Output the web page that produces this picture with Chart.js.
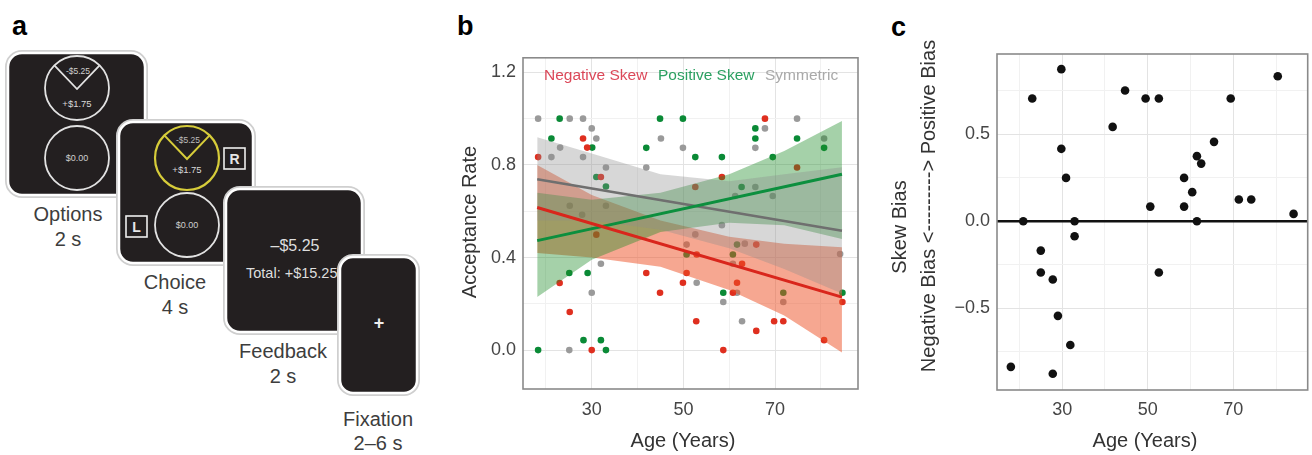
<!DOCTYPE html>
<html>
<head>
<meta charset="utf-8">
<script src="https://cdn.jsdelivr.net/npm/chart.js@4"></script>
<style>
body { margin: 0; background: #fff; width: 1312px; height: 455px; overflow: hidden; position: relative; font-family: "Liberation Sans", Arial, sans-serif; }
#art { position: absolute; left: 0; top: 0; }
#boxB { position: absolute; left: 440px; top: 40px; width: 430px; height: 415px; }
#boxC { position: absolute; left: 880px; top: 20px; width: 432px; height: 435px; }
</style>
</head>
<body>
<svg id="art" width="1312" height="455" font-family="Liberation Sans, Arial, sans-serif">
  <text x="12" y="35" font-size="27" font-weight="bold">a</text>
  <text x="457" y="35" font-size="27" font-weight="bold">b</text>
  <text x="891" y="36" font-size="27" font-weight="bold">c</text>

  <!-- Options screen -->
  <rect x="8" y="53" width="137" height="142" rx="14" fill="#231f20" stroke="#cfcfcf" stroke-width="6"/>
  <rect x="8" y="53" width="137" height="142" rx="14" fill="#231f20" stroke="#fff" stroke-width="2.5"/>
  <circle cx="77" cy="88" r="32" fill="none" stroke="#e2e2e2" stroke-width="1.8"/>
  <polyline points="54.4,65.4 77,89 99.6,65.4" fill="none" stroke="#e2e2e2" stroke-width="1.8"/>
  <text x="78" y="74" font-size="8.5" fill="#cfcfcf" text-anchor="middle">-$5.25</text>
  <text x="77" y="107" font-size="9.5" fill="#d8d8d8" text-anchor="middle">+$1.75</text>
  <circle cx="77" cy="158" r="32" fill="none" stroke="#e2e2e2" stroke-width="1.8"/>
  <text x="77" y="161" font-size="9" fill="#cfcfcf" text-anchor="middle">$0.00</text>
  <text x="68" y="221" font-size="20" fill="#3d3d3d" text-anchor="middle">Options</text>
  <text x="68" y="246" font-size="20" fill="#3d3d3d" text-anchor="middle">2 s</text>

  <!-- Choice screen -->
  <rect x="119" y="122" width="134" height="141" rx="14" fill="#231f20" stroke="#cfcfcf" stroke-width="6"/>
  <rect x="119" y="122" width="134" height="141" rx="14" fill="#231f20" stroke="#fff" stroke-width="2.5"/>
  <circle cx="187" cy="158" r="32" fill="none" stroke="#d6cc3a" stroke-width="2.2"/>
  <polyline points="164.4,135.4 187,159 209.6,135.4" fill="none" stroke="#d6cc3a" stroke-width="2"/>
  <text x="188" y="143" font-size="8.5" fill="#bdbdbd" text-anchor="middle">-$5.25</text>
  <text x="187" y="173" font-size="9.5" fill="#d8d8d8" text-anchor="middle">+$1.75</text>
  <circle cx="187" cy="225" r="32" fill="none" stroke="#e2e2e2" stroke-width="1.8"/>
  <text x="187" y="228" font-size="9" fill="#cfcfcf" text-anchor="middle">$0.00</text>
  <rect x="224" y="148" width="21" height="21" fill="none" stroke="#eee" stroke-width="1.6"/>
  <text x="234.5" y="164" font-size="14" font-weight="bold" fill="#e6e6e6" text-anchor="middle">R</text>
  <rect x="126" y="216" width="21" height="21" fill="none" stroke="#eee" stroke-width="1.6"/>
  <text x="136.5" y="232" font-size="14" font-weight="bold" fill="#e6e6e6" text-anchor="middle">L</text>
  <text x="175" y="289" font-size="20" fill="#3d3d3d" text-anchor="middle">Choice</text>
  <text x="175" y="314" font-size="20" fill="#3d3d3d" text-anchor="middle">4 s</text>

  <!-- Feedback screen -->
  <rect x="226" y="189" width="136" height="143" rx="14" fill="#231f20" stroke="#cfcfcf" stroke-width="6"/>
  <rect x="226" y="189" width="136" height="143" rx="14" fill="#231f20" stroke="#fff" stroke-width="2.5"/>
  <text x="295" y="251" font-size="16" fill="#dedede" text-anchor="middle">–$5.25</text>
  <text x="246" y="278" font-size="14.5" fill="#dedede">Total: +$15.25</text>
  <text x="283" y="358" font-size="20" fill="#3d3d3d" text-anchor="middle">Feedback</text>
  <text x="283" y="383" font-size="20" fill="#3d3d3d" text-anchor="middle">2 s</text>

  <!-- Fixation screen -->
  <rect x="340" y="257" width="77" height="136" rx="13" fill="#231f20" stroke="#cfcfcf" stroke-width="6"/>
  <rect x="340" y="257" width="77" height="136" rx="13" fill="#231f20" stroke="#fff" stroke-width="2.5"/>
  <text x="379" y="329" font-size="18" font-weight="bold" fill="#eee" text-anchor="middle">+</text>
  <text x="378" y="426" font-size="20" fill="#3d3d3d" text-anchor="middle">Fixation</text>
  <text x="378" y="450" font-size="20" fill="#3d3d3d" text-anchor="middle">2–6 s</text>
</svg>

<div id="boxB"><canvas id="chartB"></canvas></div>
<div id="boxC"><canvas id="chartC"></canvas></div>

<script>
// ── Panel b: acceptance rate by age, one series per gamble skew ──
const negAge  = [18.3, 23.0, 25.2, 28.1, 29.0, 30.0, 31.0, 32.0, 41.9, 44.9, 49.9, 50.7, 52.6, 52.8, 52.9, 58.4, 58.7, 60.8, 61.7, 62.8, 65.9, 65.9, 67.8, 69.8, 71.8, 74.8, 80.7, 84.7];
const negRate = [0.834, 0.29, 0.165, 0.914, 0.875, 0.0, 0.499, 0.748, 0.333, 0.248, 0.291, 0.333, 0.705, 0.125, 0.413, 0.748, 0.0, 0.248, 0.291, 0.373, 0.456, 0.083, 1.0, 0.125, 0.125, 0.789, 0.043, 0.208];
const posAge  = [18.3, 21.2, 23.0, 25.1, 28.2, 29.1, 30.1, 31.0, 32.0, 33.1, 33.1, 41.9, 44.9, 49.9, 50.7, 52.6, 58.4, 58.7, 60.8, 61.7, 62.7, 65.7, 65.7, 69.5, 71.8, 74.8, 80.7, 84.7];
const posRate = [0.0, 0.914, 1.0, 0.333, 0.043, 0.333, 0.875, 0.748, 0.043, 0.707, 0.0, 0.874, 1.0, 1.0, 0.413, 0.834, 0.834, 0.248, 0.413, 0.456, 0.705, 0.958, 0.914, 0.834, 0.248, 0.914, 0.874, 0.248];
const symAge  = [18.3, 21.2, 23.1, 25.1, 25.2, 25.2, 27.9, 28.1, 28.1, 30.0, 30.0, 31.0, 32.0, 33.1, 33.1, 41.9, 45.1, 49.9, 50.7, 52.6, 52.9, 58.4, 58.7, 60.8, 61.3, 61.7, 62.8, 63.4, 65.7, 65.7, 67.8, 69.5, 71.8, 74.8, 80.7, 84.2];
const symRate = [1.0, 0.834, 0.875, 0.0, 1.0, 0.624, 0.585, 1.0, 0.834, 0.958, 0.248, 0.914, 0.373, 0.789, 0.624, 0.789, 0.914, 0.874, 0.456, 0.50, 0.291, 0.54, 0.208, 0.373, 0.666, 0.248, 0.125, 0.46, 0.705, 0.874, 0.958, 0.666, 0.208, 1.0, 0.914, 0.415];

// fitted lines (end points) and confidence bands
const fitAge = [18.1, 84.6];
const negFit = [0.616, 0.229];
const posFit = [0.473, 0.760];
const symFit = [0.738, 0.516];
const bandAge  = [18.1, 30, 45, 60, 72, 84.6];
const negUpper = [0.80, 0.67, 0.56, 0.49, 0.46, 0.444];
const negLower = [0.42, 0.40, 0.36, 0.26, 0.15, -0.01];
const posUpper = [0.68, 0.65, 0.68, 0.76, 0.86, 0.99];
const posLower = [0.23, 0.39, 0.51, 0.55, 0.54, 0.48];
const symUpper = [0.92, 0.85, 0.76, 0.73, 0.76, 0.79];
const symLower = [0.56, 0.56, 0.52, 0.44, 0.35, 0.245];

const ageTicks = [20, 30, 40, 50, 60, 70, 80];
const ageLabelTicks = [30, 50, 70];
const rateTicks = [0, 0.2, 0.4, 0.6, 0.8, 1.0, 1.2];
const rateLabelTicks = [0, 0.4, 0.8, 1.2];
const legendLabels = ['Negative Skew', 'Positive Skew', 'Symmetric'];

// ── Panel c: skew bias by age ──
const biasAge   = [18.0, 20.9, 23.0, 25.0, 25.0, 27.8, 27.8, 29.0, 29.8, 29.8, 30.9, 31.9, 32.9, 32.9, 41.8, 44.7, 49.5, 50.6, 52.6, 52.6, 58.5, 58.5, 60.4, 61.5, 62.5, 61.5, 65.5, 69.4, 71.3, 74.2, 80.4, 84.1];
const biasValue = [-0.837, 0, 0.705, -0.169, -0.295, -0.335, -0.877, -0.544, 0.874, 0.416, 0.249, -0.711, 0, -0.086, 0.542, 0.751, 0.705, 0.084, 0.705, -0.295, 0.249, 0.084, 0.167, 0.374, 0.331, 0, 0.456, 0.705, 0.125, 0.125, 0.833, 0.042];
const biasTicks = [-0.75, -0.5, -0.25, 0, 0.25, 0.5, 0.75];
const biasLabelTicks = [-0.5, 0, 0.5];

const RED = '#d9261c', GREEN = '#0c8f3e', GREY = '#6f6f6f';
const FONT = '"Liberation Sans", Arial, sans-serif';

const pts = (xs, ys) => xs.map((x, i) => ({ x, y: ys[i] }));
const isMajor = (list, v) => list.some(t => Math.abs(t - v) < 1e-6);
const gridColor = list => ctx => (ctx.tick && isMajor(list, ctx.tick.value)) ? '#e3e3e3' : '#f1f1f1';

const panelText = {
    id: 'panelText',
    afterDraw(chart, args, opts) {
        const ctx = chart.ctx;
        (opts.items || []).forEach(t => {
            ctx.save();
            ctx.font = t.font;
            ctx.fillStyle = t.color;
            ctx.textAlign = t.align || 'center';
            ctx.textBaseline = 'middle';
            ctx.translate(t.x, t.y);
            if (t.rotate) ctx.rotate(-Math.PI / 2);
            ctx.fillText(t.text, 0, 0);
            ctx.restore();
        });
    }
};

const frame = {
    id: 'frame',
    beforeDatasetsDraw(chart, args, opts) {
        if (opts.zeroLine === undefined) return;
        const a = chart.chartArea, y = chart.scales.y.getPixelForValue(opts.zeroLine);
        const ctx = chart.ctx;
        ctx.save();
        ctx.strokeStyle = '#111';
        ctx.lineWidth = 2.6;
        ctx.beginPath();
        ctx.moveTo(a.left, y);
        ctx.lineTo(a.right, y);
        ctx.stroke();
        ctx.restore();
    },
    afterDatasetsDraw(chart) {
        const a = chart.chartArea, ctx = chart.ctx;
        ctx.save();
        ctx.strokeStyle = '#8a8a8a';
        ctx.lineWidth = 1.6;
        ctx.strokeRect(a.left, a.top, a.right - a.left, a.bottom - a.top);
        ctx.restore();
    }
};

function axis(min, max, tickList, labelList, fmt, size, pad) {
    return {
        type: 'linear', min, max,
        afterBuildTicks: s => { s.ticks = tickList.map(v => ({ value: v })); },
        grid: { color: gridColor(labelList), lineWidth: 1, drawTicks: false },
        border: { display: false },
        ticks: {
            autoSkip: false, maxRotation: 0, padding: pad, color: '#454545',
            font: { family: FONT, size: 18 },
            callback: v => isMajor(labelList, v) ? fmt(v) : ''
        },
        afterFit: s => { if (size.w) s.width = size.w; if (size.h) s.height = size.h; }
    };
}

const lineDs = (ys, color, width) => ({
    data: pts(fitAge, ys), borderColor: color, borderWidth: width,
    pointRadius: 0, fill: false, showLine: true
});
const bandDs = (ys, fillColor, fill) => ({
    data: pts(bandAge, ys), borderWidth: 0, borderColor: 'rgba(0,0,0,0)',
    backgroundColor: fillColor, pointRadius: 0, fill, showLine: true
});
const dotDs = (xs, ys, color) => ({
    data: pts(xs, ys), showLine: false, pointRadius: 3.3,
    pointBackgroundColor: color, pointBorderWidth: 0
});

// first dataset is drawn on top: lines, then bands (grey over green over red), then dots
new Chart(document.getElementById('chartB'), {
    type: 'line',
    data: {
        datasets: [
            lineDs(negFit, RED, 3),
            lineDs(posFit, GREEN, 3),
            lineDs(symFit, GREY, 2.6),
            bandDs(symUpper, 'rgba(140,140,140,0.35)', '+1'),
            bandDs(symLower, 'rgba(0,0,0,0)', false),
            bandDs(posUpper, 'rgba(30,140,40,0.4)', '+1'),
            bandDs(posLower, 'rgba(0,0,0,0)', false),
            bandDs(negUpper, 'rgba(238,80,35,0.5)', '+1'),
            bandDs(negLower, 'rgba(0,0,0,0)', false),
            dotDs(negAge, negRate, '#df2f1f'),
            dotDs(posAge, posRate, '#0a8a36'),
            dotDs(symAge, symRate, '#9a9a9a')
        ]
    },
    options: {
        responsive: true, maintainAspectRatio: false, animation: false,
        layout: { padding: { left: 0, right: 12, top: 16, bottom: 0 } },
        scales: {
            x: axis(15, 88.1, ageTicks, ageLabelTicks, v => String(v), { h: 66 }, 10),
            y: axis(-0.168, 1.263, rateTicks, rateLabelTicks, v => v.toFixed(1), { w: 83 }, 7)
        },
        plugins: {
            legend: { display: false },
            tooltip: { enabled: false },
            panelText: {
                items: [
                    { text: legendLabels[0], x: 104, y: 36, align: 'left', color: 'rgba(214,40,60,0.85)', font: '15.5px ' + FONT },
                    { text: legendLabels[1], x: 218, y: 36, align: 'left', color: 'rgba(20,150,80,0.9)', font: '15.5px ' + FONT },
                    { text: legendLabels[2], x: 325, y: 36, align: 'left', color: '#a9a9a9', font: '15.5px ' + FONT },
                    { text: 'Acceptance Rate', x: 30, y: 182, rotate: true, color: '#333', font: '20px ' + FONT },
                    { text: 'Age (Years)', x: 243, y: 401, color: '#333', font: '20px ' + FONT }
                ]
            }
        }
    },
    plugins: [panelText, frame]
});

new Chart(document.getElementById('chartC'), {
    type: 'scatter',
    data: {
        datasets: [{
            data: pts(biasAge, biasValue), pointRadius: 4.3,
            pointBackgroundColor: '#111', pointBorderWidth: 0
        }]
    },
    options: {
        responsive: true, maintainAspectRatio: false, animation: false,
        layout: { padding: { left: 0, right: 2, top: 34, bottom: 0 } },
        scales: {
            x: axis(14.76, 87.4, ageTicks, ageLabelTicks, v => String(v), { h: 65 }, 9),
            y: axis(-0.97, 0.961, biasTicks, biasLabelTicks, v => (v < 0 ? '\u2212' : '') + Math.abs(v).toFixed(1), { w: 117 }, 7)
        },
        plugins: {
            legend: { display: false },
            tooltip: { enabled: false },
            frame: { zeroLine: 0 },
            panelText: {
                items: [
                    { text: 'Skew Bias', x: 20, y: 207, rotate: true, color: '#333', font: '20px ' + FONT },
                    { text: 'Negative Bias <---------> Positive Bias', x: 49, y: 186, rotate: true, color: '#333', font: '20px ' + FONT },
                    { text: 'Age (Years)', x: 265, y: 421, color: '#333', font: '20px ' + FONT }
                ]
            }
        }
    },
    plugins: [panelText, frame]
});
</script>
</body>
</html>
